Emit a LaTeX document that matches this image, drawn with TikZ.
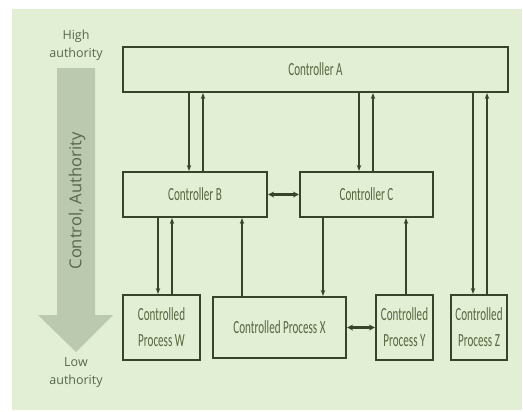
\documentclass[tikz,border=0pt]{standalone}
\usepackage{fontspec}
\setmainfont{Open Sans}
\newfontfamily\boxfont[FakeStretch=0.6]{Carlito}
\usetikzlibrary{arrows.meta}
\definecolor{bgc}{HTML}{E3EFD4}
\definecolor{linec}{HTML}{36452A}
\definecolor{boxtext}{HTML}{56663F}
\definecolor{sidetext}{HTML}{56674A}
\definecolor{bigarrow}{HTML}{BBC9AE}
\tikzset{
  blk/.style={draw=linec, line width=2.1bp, inner sep=0pt, align=center,
    font=\boxfont\fontsize{18.5bp}{26bp}\selectfont, text=boxtext},
  flow/.style={draw=linec, line width=1.3bp, -{Stealth[length=6bp,width=4.5bp]}},
  both/.style={draw=linec, line width=2.6bp, {Stealth[length=6bp,width=6bp]}-{Stealth[length=6bp,width=6bp]}},
  side/.style={text=sidetext, align=center, font=\fontsize{12.5bp}{18bp}\selectfont}
}
\begin{document}
\begin{tikzpicture}[x=1bp,y=-1bp]
\useasboundingbox (0,0) rectangle (523,411);
\fill[white] (0,0) rectangle (523,411);
\fill[bgc] (12,9) rectangle (522,410);
% big side arrow
\fill[bigarrow] (57,68) -- (95,68) -- (95,315) -- (113,315) -- (76,352) -- (38,315) -- (57,315) -- cycle;
\node[side, rotate=90, font=\fontsize{16.5bp}{18bp}\selectfont] (ca) at (77,201) {Control, Authority};
\node[side] (hi) at (76,45) {High\\authority};
\node[side] (lo) at (76,373) {Low\\authority};
% boxes
\node[blk, minimum width=385bp, minimum height=45bp] (A) at (315.5,69.5) {Controller A};
\node[blk, minimum width=144bp, minimum height=45bp] (B) at (195,194.5) {Controller B};
\node[blk, minimum width=133bp, minimum height=45bp] (C) at (366.5,194.5) {Controller C};
\node[blk, minimum width=77bp, minimum height=65bp] (W) at (161.5,327.5) {Controlled\\Process W};
\node[blk, minimum width=133bp, minimum height=61bp] (X) at (279.5,327.5) {Controlled Process X};
\node[blk, minimum width=57bp, minimum height=65bp] (Y) at (404.5,327.5) {Controlled\\Process Y};
\node[blk, minimum width=56bp, minimum height=65bp] (Z) at (479,327.5) {Controlled\\Process Z};
% connectors
\draw[flow] (A.south -| 189,0) -- (B.north -| 189,0);
\draw[flow] (B.north -| 203,0) -- (A.south -| 203,0);
\draw[flow] (A.south -| 359,0) -- (C.north -| 359,0);
\draw[flow] (C.north -| 373,0) -- (A.south -| 373,0);
\draw[flow] (A.south -| 473,0) -- (Z.north -| 473,0);
\draw[flow] (Z.north -| 487,0) -- (A.south -| 487,0);
\draw[flow] (B.south -| 158,0) -- (W.north -| 158,0);
\draw[flow] (W.north -| 172,0) -- (B.south -| 172,0);
\draw[flow] (X.north -| 242,0) -- (B.south -| 242,0);
\draw[flow] (C.south -| 323,0) -- (X.north -| 323,0);
\draw[flow] (Y.north -| 406,0) -- (C.south -| 406,0);
\draw[both] (B.east) -- (C.west);
\draw[both] (X.east) -- (Y.west);
\end{tikzpicture}
\end{document}
